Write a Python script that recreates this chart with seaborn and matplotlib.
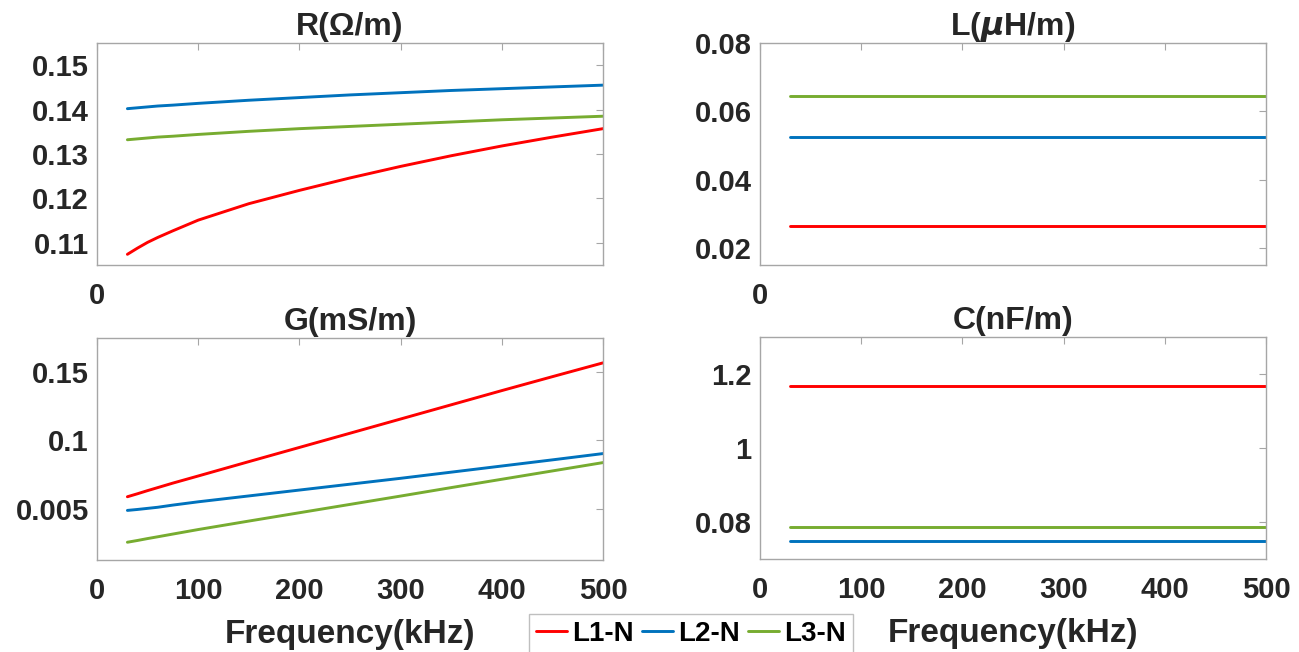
import numpy as np
import pandas as pd
import matplotlib
matplotlib.use("Agg")
import matplotlib.pyplot as plt
import seaborn as sns

freq = [30, 40, 50, 60, 75, 100, 150, 200, 250, 300, 350, 400, 450, 500]
phases = ["L1-N", "L2-N", "L3-N"]

R_L1 = [0.1074, 0.1088, 0.1101, 0.1112, 0.1127, 0.1151, 0.1188, 0.1218, 0.1246, 0.1272, 0.1296, 0.1318, 0.1338, 0.1357]
R_L2 = [0.1402, 0.1404, 0.1406, 0.1408, 0.1410, 0.1414, 0.1421, 0.1427, 0.1433, 0.1438, 0.1443, 0.1447, 0.1451, 0.1455]
R_L3 = [0.1332, 0.1334, 0.1336, 0.1338, 0.1340, 0.1344, 0.1351, 0.1357, 0.1362, 0.1367, 0.1372, 0.1377, 0.1381, 0.1385]

G_L1 = [0.0588, 0.0610, 0.0633, 0.0655, 0.0688, 0.0740, 0.0845, 0.0949, 0.1053, 0.1157, 0.1261, 0.1365, 0.1467, 0.1568]
G_L2 = [0.0488, 0.0495, 0.0503, 0.0511, 0.0527, 0.0551, 0.0594, 0.0637, 0.0680, 0.0723, 0.0768, 0.0813, 0.0858, 0.0904]
G_L3 = [0.0255, 0.0268, 0.0282, 0.0295, 0.0315, 0.0348, 0.0410, 0.0471, 0.0532, 0.0593, 0.0655, 0.0716, 0.0777, 0.0838]

# L and C do not change with frequency
L_vals = [0.0265, 0.0525, 0.0646]
C_vals = [1.168, 0.750, 0.787]

palette = {"L1-N": "#FF0000", "L2-N": "#0072BD", "L3-N": "#77AC30"}


def long_form(series):
    rows = []
    for name, vals in zip(phases, series):
        for f, v in zip(freq, vals):
            rows.append({"freq": f, "value": v, "phase": name})
    return pd.DataFrame(rows)


R_df = long_form([R_L1, R_L2, R_L3])
G_df = long_form([G_L1, G_L2, G_L3])
L_df = long_form([[v] * len(freq) for v in L_vals])
C_df = long_form([[v] * len(freq) for v in C_vals])

sns.set_style("white")
plt.rcParams["font.family"] = ["Liberation Sans", "DejaVu Sans"]
plt.rcParams["font.weight"] = "bold"
plt.rcParams["mathtext.fontset"] = "dejavusans"

fig = plt.figure(figsize=(12.99, 6.52), dpi=100)
w, h = 0.3895, 0.3405
ax_R = fig.add_axes([0.0747, 0.5936, w, h])
ax_L = fig.add_axes([0.5851, 0.5936, w, h])
ax_G = fig.add_axes([0.0747, 0.1411, w, h])
ax_C = fig.add_axes([0.5851, 0.1425, w, h])

panels = [
    (ax_R, R_df, "R(Ω/m)", (0.105, 0.155), [0.11, 0.12, 0.13, 0.14, 0.15],
     ["0.11", "0.12", "0.13", "0.14", "0.15"]),
    (ax_L, L_df, r"L($\mu$H/m)", (0.015, 0.08), [0.02, 0.04, 0.06, 0.08],
     ["0.02", "0.04", "0.06", "0.08"]),
    (ax_G, G_df, "G(mS/m)", (0.0125, 0.175), [0.05, 0.1, 0.15],
     ["0.005", "0.1", "0.15"]),
    (ax_C, C_df, "C(nF/m)", (0.7, 1.3), [0.8, 1.0, 1.2],
     ["0.08", "1", "1.2"]),
]

for i, (ax, df, title, ylim, yt, ytl) in enumerate(panels):
    sns.lineplot(data=df, x="freq", y="value", hue="phase", palette=palette,
                 linewidth=2.1, ax=ax, legend=(i == 0))
    ax.set_xlim(0, 500)
    ax.set_ylim(*ylim)
    ax.set_yticks(yt)
    ax.set_yticklabels(ytl)
    ax.set_xticks([0, 100, 200, 300, 400, 500])
    if i < 2:
        ax.set_xticklabels(["0", "", "", "", "", ""])
        ax.set_xlabel("")
    else:
        ax.set_xticklabels(["0", "100", "200", "300", "400", "500"])
        ax.set_xlabel("Frequency(kHz)", fontsize=24, fontweight="bold", labelpad=10)
    ax.set_ylabel("")
    ax.set_title(title, fontsize=23, fontweight="bold", pad=6)
    ax.tick_params(axis="both", direction="in", length=5, width=0.8,
                   color="#a6a6a6", labelsize=21, top=True, right=True)
    ax.tick_params(axis="x", pad=12)
    ax.tick_params(axis="y", pad=6)
    for lab in ax.get_xticklabels() + ax.get_yticklabels():
        lab.set_fontweight("bold")
        lab.set_color("#262626")
    for sp in ax.spines.values():
        sp.set_color("#a6a6a6")
        sp.set_linewidth(1.0)

handles, labels = ax_R.get_legend_handles_labels()
ax_R.get_legend().remove()
leg = fig.legend(handles, labels, loc="center", bbox_to_anchor=(0.532, 0.028),
                 ncol=3, fontsize=20, frameon=True, fancybox=False,
                 handlelength=1.1, handletextpad=0.2, columnspacing=0.3,
                 borderpad=0.25, edgecolor="#b0b0b0")
for t in leg.get_texts():
    t.set_fontweight("bold")
    t.set_color("black")

fig.savefig("out.png", dpi=100)
